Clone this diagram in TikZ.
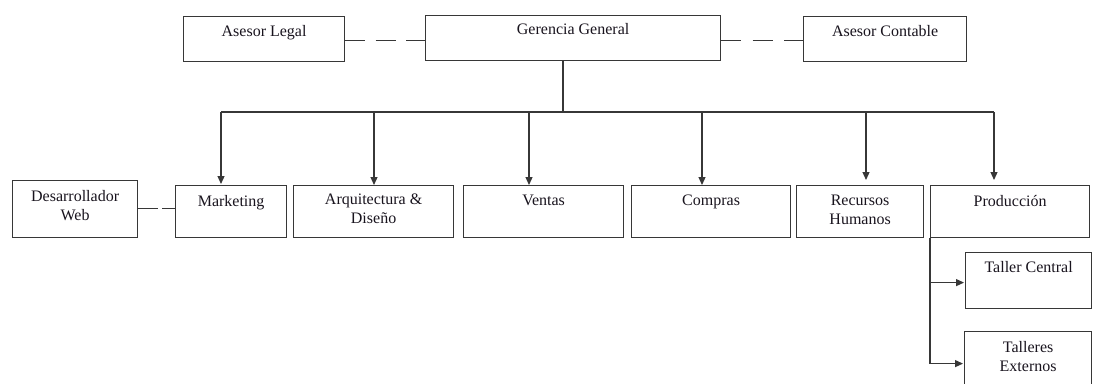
\documentclass[tikz,border=0pt]{standalone}
\usepackage{fontspec}
\setmainfont{Liberation Serif}
\usetikzlibrary{arrows.meta}
\definecolor{lineclr}{RGB}{55,55,55}
\definecolor{txtclr}{RGB}{25,20,30}
\begin{document}
\begin{tikzpicture}[x=1pt,y=-1pt,
  box/.style={draw=lineclr, line width=1.2pt, inner sep=0pt, anchor=north west, fill=white},
  lbl/.style={inner sep=0pt, anchor=north, align=center, text=txtclr,
    font=\fontsize{16}{19}\selectfont},
  conn/.style={draw=lineclr, line width=1.2pt},
  arr/.style={conn, -{Triangle[length=8pt,width=7pt]}},
  dsh/.style={conn, dash pattern=on 20pt off 10.5pt}]
\useasboundingbox (0,0) rectangle (1097,383);
\clip (0,0) rectangle (1097,383);
\fill[white] (0,0) rectangle (1097,383);
% boxes
\node[box, minimum width=161pt, minimum height=45pt] (AL) at (183,16) {};
\node[box, minimum width=295pt, minimum height=45pt] (GG) at (425,15) {};
\node[box, minimum width=163pt, minimum height=45pt] (AC) at (803,16) {};
\node[box, minimum width=125pt, minimum height=57pt] (DW) at (12,180) {};
\node[box, minimum width=111pt, minimum height=52pt] (MK) at (175,185) {};
\node[box, minimum width=160pt, minimum height=52pt] (AD) at (293,185) {};
\node[box, minimum width=160pt, minimum height=52pt] (VE) at (463,185) {};
\node[box, minimum width=159pt, minimum height=52pt] (CO) at (631,185) {};
\node[box, minimum width=127pt, minimum height=52pt] (RH) at (796,185) {};
\node[box, minimum width=159pt, minimum height=52pt] (PR) at (930,185) {};
\node[box, minimum width=126pt, minimum height=56pt] (TC) at (965,252) {};
\node[box, minimum width=127pt, minimum height=64pt] (TE) at (964,331) {};
% labels
\node[lbl] (tAL) at ([yshift=-9pt]AL.north) {Asesor Legal};
\node[lbl] (tGG) at ([yshift=-8.5pt]GG.north) {Gerencia General};
\node[lbl] (tAC) at ([yshift=-9pt]AC.north) {Asesor Contable};
\node[lbl] (tDW) at ([yshift=-10pt]DW.north) {Desarrollador\\Web};
\node[lbl] (tMK) at ([yshift=-10pt]MK.north) {Marketing};
\node[lbl] (tAD) at ([yshift=-9pt]AD.north) {Arquitectura \&\\Diseño};
\node[lbl] (tVE) at ([yshift=-10pt]VE.north) {Ventas};
\node[lbl] (tCO) at ([yshift=-10pt]CO.north) {Compras};
\node[lbl] (tRH) at ([yshift=-10pt]RH.north) {Recursos\\Humanos};
\node[lbl] (tPR) at ([yshift=-10pt]PR.north) {Producción};
\node[lbl] (tTC) at ([yshift=-9pt]TC.north) {Taller Central};
\node[lbl] (tTE) at ([yshift=-10pt]TE.north) {Talleres\\Externos};
% dashed advisor links
\draw[dsh] ([yshift=-1.5pt]AL.east) -- ([yshift=-1.5pt]AL.east -| GG.west);
\draw[conn, dash pattern=on 20pt off 11.5pt] ([yshift=-2.5pt]GG.east) -- ([yshift=-2.5pt]GG.east -| AC.west);
\draw[conn, dash pattern=on 20pt off 4pt] ([yshift=0.5pt]DW.east) -- ([yshift=0.5pt]DW.east -| MK.west);
% tree
\coordinate (j)  at (563,112);
\coordinate (b1) at (221,112);
\coordinate (b2) at (374,112);
\coordinate (b3) at (529,112);
\coordinate (b4) at (702,112);
\coordinate (b5) at (866,112);
\coordinate (b6) at (994,112);
\draw[conn] (j |- GG.south) -- (j);
\draw[conn] (b1) -- (b6);
\draw[arr, shorten >=1pt] (b1) -- (b1 |- MK.north);
\draw[arr] (b2) -- (b2 |- AD.north);
\draw[arr] (b3) -- (b3 |- VE.north);
\draw[arr] (b4) -- (b4 |- CO.north);
\draw[arr, shorten >=5pt] (b5) -- (b5 |- RH.north);
\draw[arr, shorten >=5pt] (b6) -- (b6 |- PR.north);
% production branch
\draw[conn] (PR.south west) -- (PR.south west |- TE.west);
\draw[arr, shorten >=1pt] ([yshift=-2pt]PR.south west |- TC.west) -- ([yshift=-2pt]TC.west);
\draw[arr, shorten >=1pt] (PR.south west |- TE.west) -- (TE.west);
\end{tikzpicture}
\end{document}
